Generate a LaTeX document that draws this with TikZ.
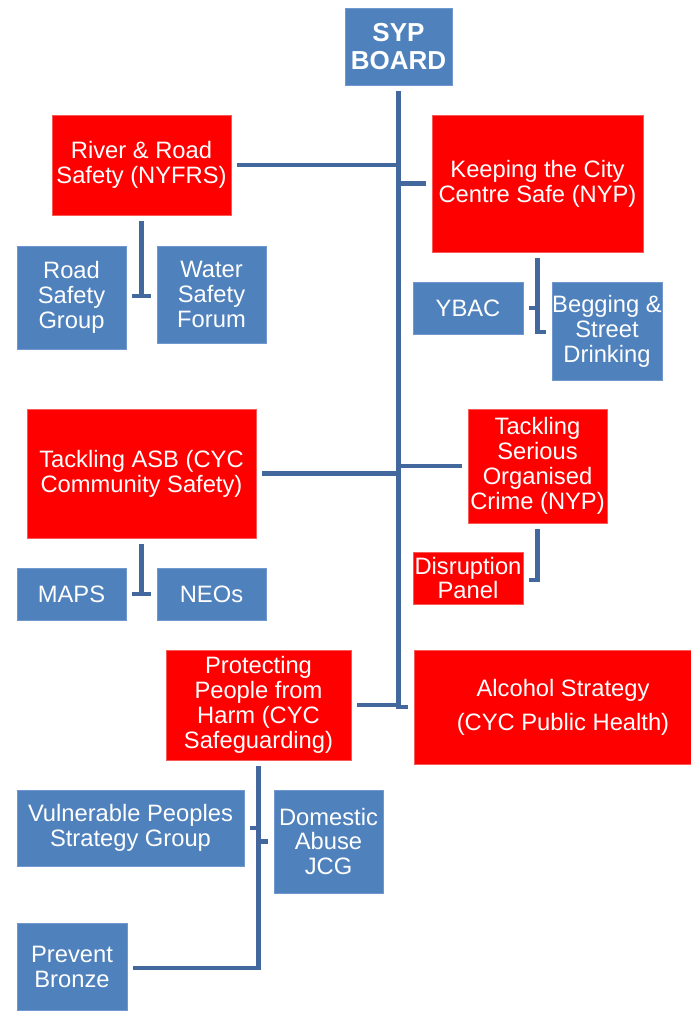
\documentclass[tikz,border=0pt]{standalone}
\usepackage{fontspec}
\setmainfont{Liberation Sans}
\definecolor{boxblue}{RGB}{79,129,189}
\definecolor{boxblueedge}{RGB}{112,152,206}
\definecolor{boxred}{RGB}{255,0,0}
\definecolor{boxrededge}{RGB}{248,90,90}
\definecolor{linkblue}{RGB}{66,104,158}
\begin{document}
\begin{tikzpicture}[x=0.75pt,y=-0.75pt,
  box/.style={text=white, font=\fontsize{17.8}{18.7}\selectfont, align=center, inner sep=0pt, line width=0.6pt},
  bluebox/.style={box, fill=boxblue, draw=boxblueedge},
  redbox/.style={box, fill=boxred, draw=boxrededge},
  sz/.style 2 args={minimum width=#1*0.75pt, minimum height=#2*0.75pt},
  link/.style={draw=linkblue, line width=3.5pt}]
\fill[white] (0,0) rectangle (691,1011);
\useasboundingbox (0,0) rectangle (691,1011);

% nodes
\node[bluebox, sz={107}{77}, font=\fontsize{19.5}{21}\selectfont\bfseries] (syp) at (398.5,46.5) {SYP\\BOARD};
\node[redbox, sz={179}{100}] (river) at (141.5,165) {River \& Road\\Safety (NYFRS)};
\node[redbox, sz={211}{137}] (keep) at (537.5,183.5) {Keeping the City\\Centre Safe (NYP)};
\node[bluebox, sz={109}{103}] (rsg) at (71.5,297.5) {Road\\Safety\\Group};
\node[bluebox, sz={109}{97}] (wsf) at (211.5,294.5) {Water\\Safety\\Forum};
\node[bluebox, sz={110}{52}] (ybac) at (468,308) {YBAC};
\node[bluebox, sz={110}{98}] (beg) at (607,331) {Begging \&\\Street\\Drinking};
\node[redbox, sz={229}{129}] (asb) at (141.5,473.5) {Tackling ASB (CYC\\Community Safety)};
\node[redbox, sz={139}{114}] (soc) at (537.5,466) {Tackling\\Serious\\Organised\\Crime (NYP)};
\node[bluebox, sz={109}{52}] (maps) at (71.5,594) {MAPS};
\node[bluebox, sz={109}{52}] (neos) at (211.5,594) {NEOs};
\node[redbox, sz={110}{52}] (disr) at (468,578) {Disruption\\Panel};
\node[redbox, sz={185}{110}] (prot) at (258.5,705) {Protecting\\People from\\Harm (CYC\\Safeguarding)};
\node[redbox, sz={298}{114}, font=\fontsize{17.8}{25.5}\selectfont] (alc) at (563,707) {Alcohol Strategy\\(CYC Public Health)};
\node[bluebox, sz={227}{76}] (vuln) at (130.5,828) {Vulnerable Peoples\\Strategy Group};
\node[bluebox, sz={109}{103}] (dom) at (328.5,841.5) {Domestic\\Abuse\\JCG};
\node[bluebox, sz={110}{87}] (prev) at (72,966.5) {Prevent\\Bronze};

% trunk
\coordinate (tbot) at (399,709);
\draw[link] ([yshift=-4.5pt]syp.south) -- (syp.south |- tbot);
\draw[link] ([xshift=4.5pt]river.east) -- (river.east -| syp.south);
\draw[link] (keep.west -| syp.south) -- ([xshift=-4.5pt]keep.west);
\draw[link] ([xshift=4.5pt]asb.east) -- (asb.east -| syp.south);
\draw[link] (soc.west -| syp.south) -- ([xshift=-4.5pt]soc.west);
\draw[link] ([xshift=4.5pt]prot.east) -- (prot.east -| syp.south);
\draw[link] (alc.west -| syp.south) -- ([xshift=-4.5pt]alc.west);

% river children
\coordinate (rj) at (141.5,296);
\draw[link] ([yshift=-4.5pt]river.south) -- (rj);
\draw[link] ([xshift=4.5pt]rsg.east |- rj) -- ([xshift=-4.5pt]wsf.west |- rj);

% keep children
\coordinate (kj) at (537.5,332);
\draw[link] ([yshift=-4.5pt]keep.south) -- (kj) -- ([xshift=-4.5pt]beg.west |- kj);
\draw[link] ([xshift=4.5pt]ybac.east) -- (ybac.east -| kj);

% asb children
\coordinate (aj) at (141.5,594);
\draw[link] ([yshift=-4.5pt]asb.south) -- (aj);
\draw[link] ([xshift=4.5pt]maps.east |- aj) -- ([xshift=-4.5pt]neos.west |- aj);

% soc children
\coordinate (sj) at (537.5,580);
\draw[link] ([yshift=-4.5pt]soc.south) -- (sj) -- ([xshift=4.5pt]disr.east |- sj);

% prot children
\coordinate (pj) at (258.5,968);
\draw[link] ([yshift=-4.5pt]prot.south) -- (pj) -- ([xshift=4.5pt]prev.east |- pj);
\draw[link] ([xshift=4.5pt]vuln.east) -- (vuln.east -| pj);
\draw[link] (dom.west -| pj) -- ([xshift=-4.5pt]dom.west);
\end{tikzpicture}
\end{document}
